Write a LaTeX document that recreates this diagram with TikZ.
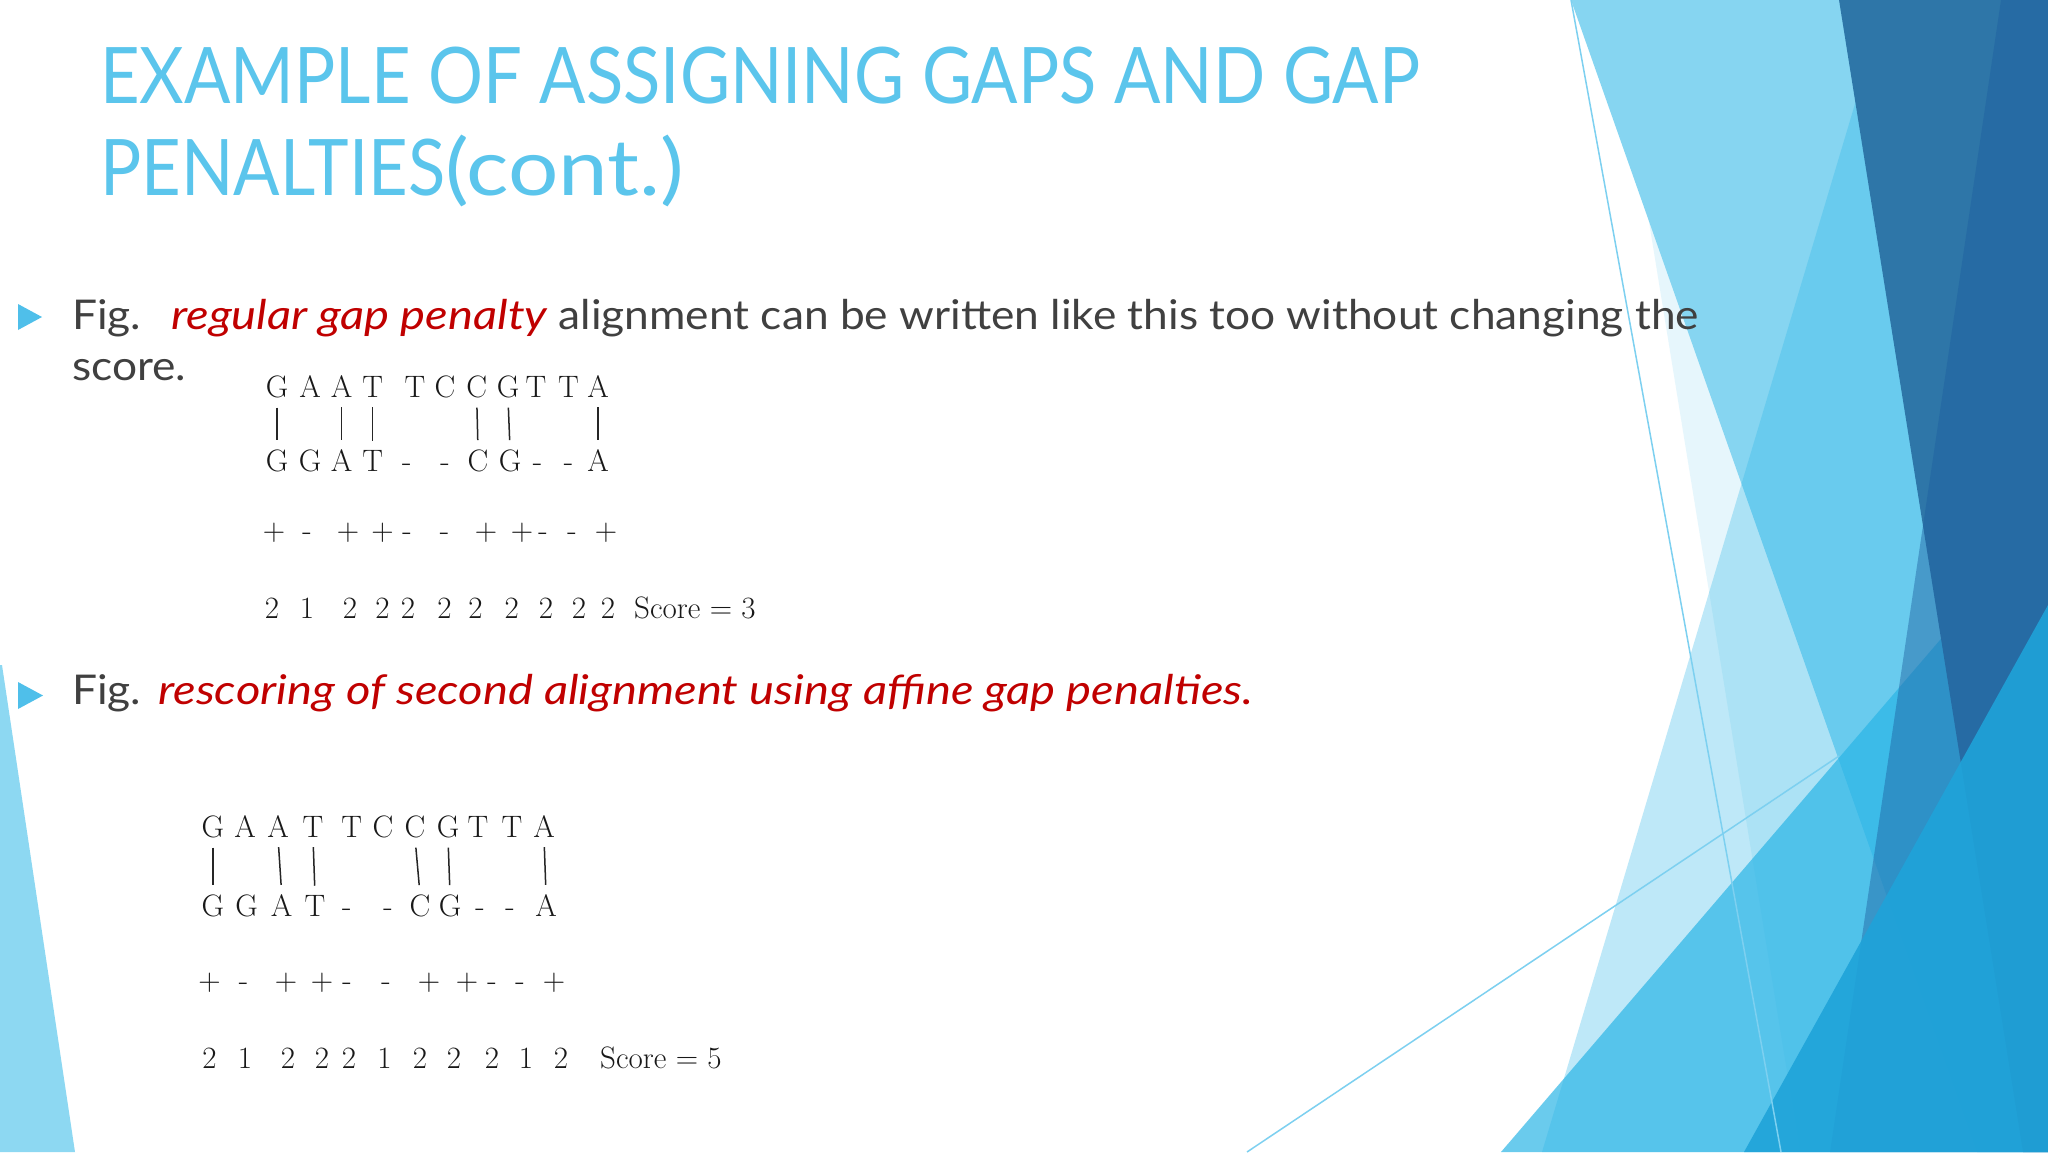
\documentclass[tikz,border=0pt]{standalone}
\usepackage{fontspec}
\usepackage{tikz}

\newfontfamily\slidefont[FakeStretch=1.08, ItalicFeatures={FakeStretch=1.15}]{Lato}
\newfontfamily\titlefont[FakeStretch=0.88]{Lato}
\newfontfamily\titlelower[FakeStretch=1.14]{Lato}

\definecolor{titleblue}{HTML}{5BC5EC}
\definecolor{bodygray}{HTML}{404040}
\definecolor{figred}{HTML}{C00000}
\definecolor{bulletblue}{HTML}{4FBFEA}
\definecolor{lineblue}{HTML}{7DD0F0}
\definecolor{sliverblue}{HTML}{8DD8F2}
\definecolor{faintblue}{HTML}{5BC8EE}
\definecolor{lightblue}{HTML}{86D5F1}
\definecolor{midblue}{HTML}{29B5E8}
\definecolor{lowblue}{HTML}{28B4E6}
\definecolor{darkblue}{HTML}{2E76A8}
\definecolor{deepblue}{HTML}{1E5FA0}
\definecolor{cornerblue}{HTML}{1FA3D9}

\begin{document}
\begin{tikzpicture}[x=1pt,y=-1pt,
	seq/.style={font=\fontsize{31}{37}\selectfont, text=black!90, inner sep=0pt, anchor=base},
	bar/.style={line width=1.5pt, black!85, shorten <=10pt, shorten >=9pt},
	body/.style={font=\slidefont\fontsize{41}{49}\selectfont, text=bodygray, inner sep=0pt, anchor=base west},
	title/.style={font=\titlefont\fontsize{78}{94}\selectfont, text=titleblue, inner sep=0pt, anchor=base west}]
	
	\useasboundingbox (0,0) rectangle (2048,1152);
	\fill[white] (0,0) rectangle (2048,1152);
	
	%Facetten
	\fill[sliverblue] (0,665) -- (2,665) -- (75,1152) -- (0,1152) -- cycle; %links
	\fill[faintblue, opacity=0.15] (1613,0) -- (2048,0) -- (2048,1152) -- (1800,1152) -- cycle;
	\fill[lightblue] (1571,0) -- (2048,0) -- (2048,1152) -- (1977,1152) -- cycle;
	\fill[midblue, opacity=0.3] (1886,0) -- (2048,0) -- (2048,1152) -- (1542,1152) -- cycle;
	\fill[lowblue, opacity=0.69] (1501,1152) -- (2048,514) -- (2048,1152) -- cycle;
	\fill[darkblue] (1839,0) -- (2048,0) -- (2048,1152) -- (2023,1152) -- cycle; %dunkel
	\fill[deepblue, opacity=0.45] (2001,0) -- (2048,0) -- (2048,1152) -- (1830,1152) -- cycle;
	\fill[cornerblue, opacity=0.9] (2048,605) -- (2048,1152) -- (1744,1152) -- cycle;
	\draw[lineblue, line width=1.5pt] (1571,0) -- (1781,1152);
	\draw[lineblue, line width=1.5pt] (1247,1152) -- (1839,756);
	
	%Titel
	\node[title] (title1) at (100,103) {EXAMPLE OF ASSIGNING GAPS AND GAP};
	\node[title] (title2) at (100,195) {PENALTIES{\titlelower(cont.)}};
	
	%Aufzaehlung
	\fill[bulletblue] (18,304) -- (18,330) -- (42,317) -- cycle;
	\fill[bulletblue] (18,682) -- (18,709) -- (43,695.5) -- cycle;
	\node[body] (fig1) at (72,329) {Fig.\hspace{30pt}{\itshape\color{figred}regular gap penalty} alignment can be written like this too without changing the};
	\node[body] (score1) at (72,380) {score.};
	\node[body] (fig2) at (72,704) {Fig.\hspace{17pt}{\itshape\color{figred}rescoring of second alignment using affine gap penalties.}};
	
	%erste Alignierung
	\foreach \x/\c [count=\i] in {277/G,310/A,341.7/A,372.7/T,415/T,445/C,476.7/C,508/G,536/T,568.5/T,598/A}
		\node[seq] (topa\i) at (\x,397) {\c};
	\foreach \x/\c [count=\i] in {277/G,310/G,341.7/A,372.7/T,406.7/-,445/-,478/C,510/G,537.5/-,568.5/-,598/A}
		\node[seq] (bota\i) at (\x,471) {\c};
	\foreach \i in {1,3,4,7,8,11}
		\draw[bar] (topa\i.south) -- (bota\i.north);
	\foreach \x/\c [count=\i] in {274/+,307/-,348/+,382.6/+,407/-,444.6/-,486/+,522/+,543/-,572/-,606/+}
		\node[seq] (signa\i) at (\x,540) {\c};
	\foreach \x/\c [count=\i] in {272/2,307/1,350/2,382.6/2,408/2,444.6/2,475.5/2,511.7/2,546/2,579/2,608/2}
		\node[seq] (numa\i) at (\x,618) {\c};
	\node[seq, anchor=base west] (scorea) at (634,618) {Score = 3};
	
	%zweite Alignierung
	\foreach \x/\c [count=\i] in {213/G,245/A,278/A,313/T,351.7/T,383/C,415/C,448/G,478/T,512/T,544/A}
		\node[seq] (topb\i) at (\x,837) {\c};
	\foreach \x/\c [count=\i] in {213/G,246.7/G,281.7/A,315/T,346.7/-,388/-,420/C,450/G,480/-,510/-,546/A}
		\node[seq] (botb\i) at (\x,916) {\c};
	\foreach \i in {1,3,4,7,8,11}
		\draw[bar] (topb\i.south) -- (botb\i.north);
	\foreach \x/\c [count=\i] in {209.6/+,243.6/-,286/+,322/+,347/-,386/-,429/+,467/+,492/-,520/-,554/+}
		\node[seq] (signb\i) at (\x,990) {\c};
	\foreach \x/\c [count=\i] in {209.6/2,245/1,288/2,322/2,349/2,384.6/1,420/2,454/2,492/2,526/1,561/2}
		\node[seq] (numb\i) at (\x,1068) {\c};
	\node[seq, anchor=base west] (scoreb) at (600,1068) {Score = 5};
	
\end{tikzpicture}
\end{document}
